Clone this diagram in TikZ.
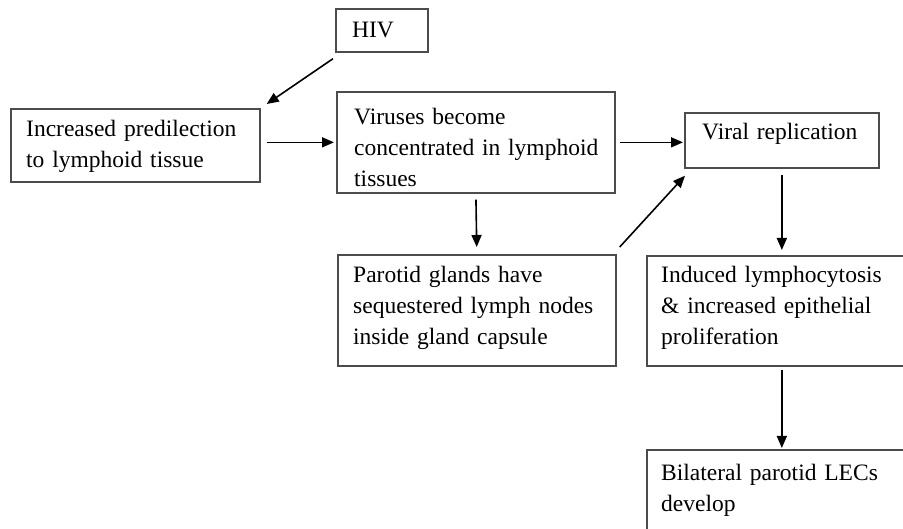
\documentclass[tikz,border=0pt]{standalone}
\usepackage{fontspec}
\setmainfont{Liberation Serif}
\usetikzlibrary{arrows.meta}
\begin{document}
\begin{tikzpicture}[x=1pt,y=-1pt,
  box/.style={draw=black!70, line width=1.7pt, rectangle, inner sep=0pt, anchor=north west},
  txt/.style={anchor=base west, inner sep=0pt, align=left, text width=320pt,
              font=\fontsize{23.5}{31}\selectfont, text=black},
  arr/.style={-{Triangle[length=12pt,width=10pt]}, line width=1.6pt, black}]
\useasboundingbox (0,0) rectangle (903,529);
% boxes
\node[box, minimum width=92pt,  minimum height=43pt]  (hiv) at (335,8) {};
\node[box, minimum width=249pt, minimum height=73pt]  (inc) at (10,108) {};
\node[box, minimum width=278pt, minimum height=101pt] (vir) at (336,91) {};
\node[box, minimum width=194pt, minimum height=55pt]  (rep) at (684,112) {};
\node[box, minimum width=278pt, minimum height=111pt] (par) at (337,254) {};
\node[box, minimum width=270pt, minimum height=110pt] (ind) at (646,255) {};
\node[box, minimum width=270pt, minimum height=120pt] (bil) at (646,449) {};
% texts
\node[txt] (hivT) at (352,38) {HIV};
\node[txt] (incT) at (26,137) {Increased predilection\\to lymphoid tissue};
\node[txt] (virT) at (354,125) {Viruses become\\concentrated in lymphoid\\tissues};
\node[txt] (repT) at (702,140) {Viral replication};
\node[txt] (parT) at (353,283) {Parotid glands have\\sequestered lymph nodes\\inside gland capsule};
\node[txt] (indT) at (661,283) {Induced lymphocytosis\\\& increased epithelial\\proliferation};
\node[txt] (bilT) at (661,480) {Bilateral parotid LECs\\develop};
% connectors
\draw[arr] ([shift={(-2,6)}]hiv.south west) -- ([shift={(6,-4)}]inc.north east);
\draw[arr, shorten <=6pt, shorten >=2pt] (inc.east |- vir.west) -- (vir.west);
\draw[arr, shorten <=4pt, shorten >=1pt] (vir.east) -- (vir.east -| rep.west);
\draw[arr, shorten <=6pt, shorten >=7pt] (vir.south) -- (par.north);
\draw[arr] ([shift={(3,-7)}]par.north east) -- ([shift={(1,7)}]rep.south west);
\draw[arr, shorten <=6pt, shorten >=5pt] (rep.south) -- (rep.south |- ind.north);
\draw[arr, shorten <=3pt, shorten >=1pt] (ind.south) -- (bil.north);
\end{tikzpicture}
\end{document}
